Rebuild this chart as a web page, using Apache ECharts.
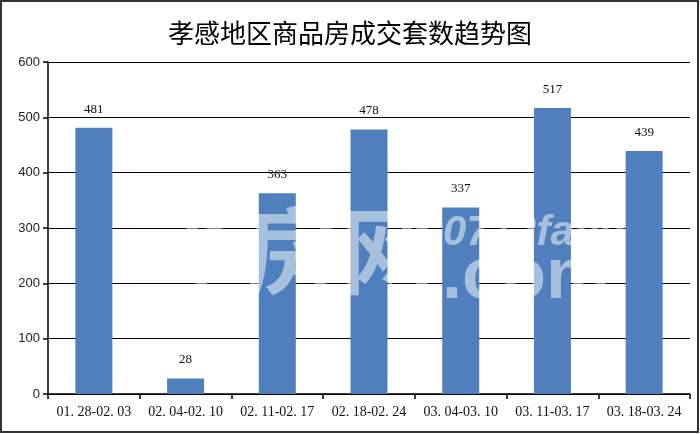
<!DOCTYPE html>
<html><head><meta charset="utf-8">
<script src="https://cdn.jsdelivr.net/npm/echarts@6/dist/echarts.min.js"></script>
<style>html,body{margin:0;padding:0;background:#fff}#c{width:700px;height:434px}</style>
</head><body><div id="c"></div>
<script>
const title = '孝感地区商品房成交套数趋势图';
const categories = ['01.28-02.03','02.04-02.10','02.11-02.17','02.18-02.24','03.04-03.10','03.11-03.17','03.18-03.24'];
const values = [481, 28, 363, 478, 337, 517, 439];
const yTicks = {min: 0, max: 600, interval: 100};

const chart = echarts.init(document.getElementById('c'));
const wm = {fill: 'rgba(255,255,255,0.5)', shadowColor: 'rgba(0,0,0,0.18)', shadowBlur: 2, shadowOffsetX: 2, shadowOffsetY: 2};
chart.setOption({
  animation: false,
  backgroundColor: '#fff',
  title: {text: title, left: 'center', top: 15,
    textStyle: {fontFamily: '"Noto Sans CJK SC"', fontSize: 26, fontWeight: 'normal', color: '#000'}},
  grid: {left: 48, right: 10, top: 62, bottom: 40},
  xAxis: {type: 'category', data: categories,
    axisLine: {lineStyle: {color: '#000', width: 1.5}},
    axisTick: {show: true, length: 5, lineStyle: {color: '#000', width: 1.5}},
    axisLabel: {interval: 0, hideOverlap: false, margin: 11, color: '#111', fontFamily: '"Liberation Serif"', fontSize: 14,
      formatter: v => v.replace(/\./g, '. ')}},
  yAxis: {type: 'value', min: yTicks.min, max: yTicks.max, interval: yTicks.interval,
    axisLine: {show: true, lineStyle: {color: '#000', width: 1.5}},
    axisTick: {show: true, length: 5, lineStyle: {color: '#000', width: 1.5}},
    splitLine: {lineStyle: {color: '#000', width: 1.2}},
    axisLabel: {margin: 8, color: '#222', fontFamily: '"Liberation Sans"', fontSize: 13}},
  series: [{type: 'bar', data: values, barWidth: 37,
    itemStyle: {color: '#4f80bd'},
    label: {show: true, position: 'top', distance: 12, color: '#111', fontFamily: '"Liberation Serif"', fontSize: 13}}],
  graphic: [
    {type: 'text', left: 150, top: 203, z: 100, style: Object.assign({text: '孝房网', font: 'bold 95px "Noto Sans CJK SC"'}, wm)},
    {type: 'text', left: 443, top: 212, z: 100, style: Object.assign({text: '0712fang', font: 'italic bold 42px "Liberation Sans"'}, wm)},
    {type: 'text', left: 442, top: 242, z: 100, style: Object.assign({text: '.com', font: 'bold 72px "Liberation Sans"'}, wm)},
    {type: 'rect', shape: {x: 1, y: 1, width: 697, height: 431}, z: 100, style: {fill: 'none', stroke: '#333', lineWidth: 2}}
  ]
});
</script></body></html>
